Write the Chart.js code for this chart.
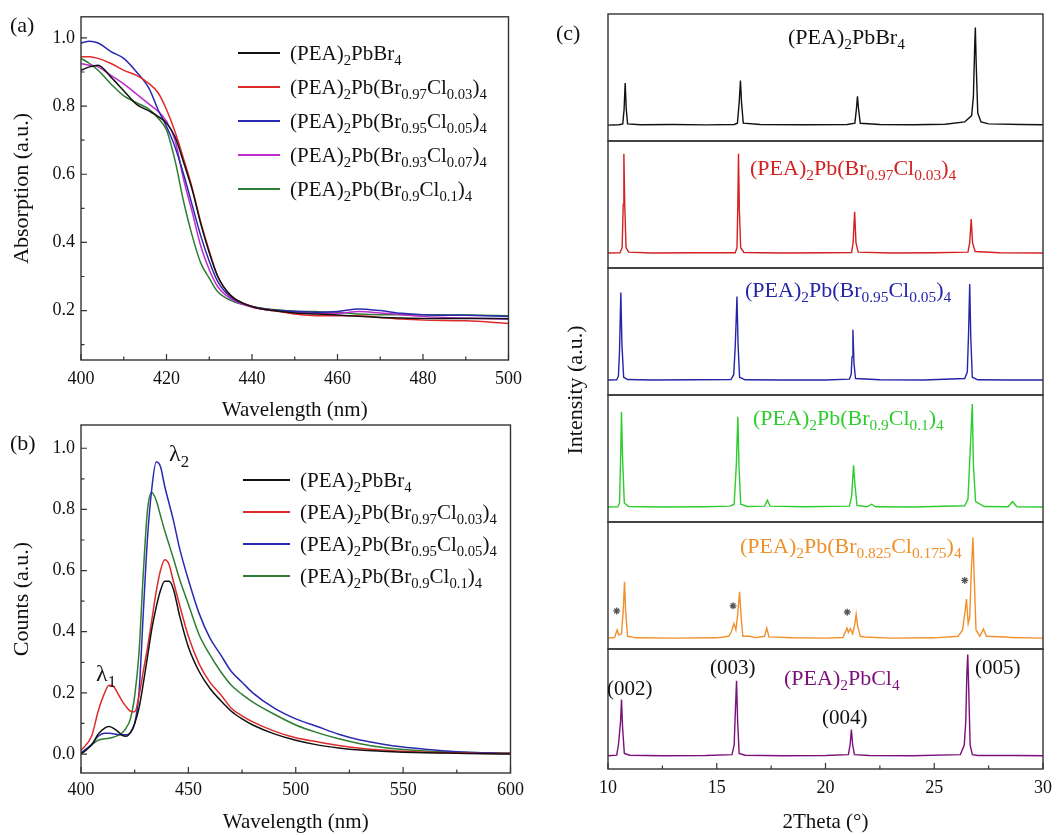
<!DOCTYPE html>
<html>
<head>
<meta charset="utf-8">
<script src="https://cdn.jsdelivr.net/npm/chart.js@4.4.0/dist/chart.umd.min.js"></script>
<style>
    body { margin: 0; background: #fff; font-family: 'Liberation Serif', 'Times New Roman', serif; color: #111; }
    #page { position: relative; width: 1060px; height: 835px; overflow: hidden; }
    canvas { position: absolute; }
    .lbl { position: absolute; white-space: nowrap; transform: translateY(-50%); line-height: 1; }
    sub { font-size: 70%; vertical-align: -0.35em; line-height: 0; }
    .leg { position: absolute; font-size: 21px; }
    .leg .row { display: flex; align-items: center; white-space: nowrap; }
    .leg .sw { display: inline-block; height: 0; border-top: 2px solid; margin-right: 10px; }
</style>
</head>
<body>
<div id="page">
    <canvas id="chartA" width="530" height="427" style="left:0;top:0"></canvas>
    <canvas id="chartB" width="530" height="435" style="left:0;top:400px"></canvas>
    <canvas id="chartC" width="520" height="835" style="left:540px;top:0"></canvas>

    <div class="lbl" style="left:10px;top:25px;font-size:22px">(a)</div>
    <div class="lbl" style="left:10px;top:443px;font-size:22px">(b)</div>
    <div class="lbl" style="left:556px;top:33px;font-size:22px">(c)</div>
    <div class="leg" id="legA" style="left:238px;top:36px"></div>
    <div class="leg" id="legB" style="left:243px;top:464px"></div>
    <div class="lbl" style="left:96px;top:673px;font-size:24px">&lambda;<sub>1</sub></div>
    <div class="lbl" style="left:169px;top:453px;font-size:24px">&lambda;<sub>2</sub></div>

    <div class="lbl" style="left:575px;top:390px;font-size:22px;transform:translate(-50%,-50%) rotate(-90deg)">Intensity (a.u.)</div>
    <div class="lbl" style="left:788px;top:37px;font-size:22px;color:#111">(PEA)<sub>2</sub>PbBr<sub>4</sub></div>
    <div class="lbl" style="left:750px;top:168px;font-size:22px;color:#d42020">(PEA)<sub>2</sub>Pb(Br<sub>0.97</sub>Cl<sub>0.03</sub>)<sub>4</sub></div>
    <div class="lbl" style="left:745px;top:290px;font-size:22px;color:#2525a8">(PEA)<sub>2</sub>Pb(Br<sub>0.95</sub>Cl<sub>0.05</sub>)<sub>4</sub></div>
    <div class="lbl" style="left:753px;top:418px;font-size:22px;color:#2ecc2e">(PEA)<sub>2</sub>Pb(Br<sub>0.9</sub>Cl<sub>0.1</sub>)<sub>4</sub></div>
    <div class="lbl" style="left:740px;top:546px;font-size:22px;color:#f0902a">(PEA)<sub>2</sub>Pb(Br<sub>0.825</sub>Cl<sub>0.175</sub>)<sub>4</sub></div>
    <div class="lbl" style="left:784px;top:678px;font-size:22px;color:#7b0f7b">(PEA)<sub>2</sub>PbCl<sub>4</sub></div>
    <div class="lbl" style="left:607px;top:688px;font-size:21px">(002)</div>
    <div class="lbl" style="left:710px;top:667px;font-size:21px">(003)</div>
    <div class="lbl" style="left:822px;top:717px;font-size:21px">(004)</div>
    <div class="lbl" style="left:975px;top:667px;font-size:21px">(005)</div>
</div>
<script>
// (a) absorption
const absX = [400, 402, 404, 407, 410, 413, 416, 418, 420, 422, 424, 426, 428, 430, 432, 435, 440, 445, 450, 455, 460, 465, 470, 475, 480, 490, 500];
const absBr = [0.905, 0.915, 0.92, 0.885, 0.845, 0.805, 0.785, 0.77, 0.75, 0.71, 0.635, 0.555, 0.455, 0.37, 0.30, 0.245, 0.212, 0.2, 0.193, 0.19, 0.187, 0.183, 0.18, 0.178, 0.177, 0.177, 0.176];
const absCl003 = [0.945, 0.945, 0.94, 0.925, 0.905, 0.89, 0.865, 0.84, 0.79, 0.725, 0.645, 0.56, 0.46, 0.375, 0.30, 0.245, 0.212, 0.2, 0.19, 0.185, 0.185, 0.185, 0.18, 0.175, 0.172, 0.17, 0.162];
const absCl005 = [0.985, 0.99, 0.985, 0.96, 0.94, 0.90, 0.85, 0.79, 0.74, 0.68, 0.60, 0.51, 0.42, 0.345, 0.285, 0.24, 0.212, 0.202, 0.198, 0.195, 0.197, 0.205, 0.2, 0.192, 0.188, 0.186, 0.183];
const absCl007 = [0.925, 0.92, 0.915, 0.89, 0.865, 0.835, 0.805, 0.785, 0.755, 0.70, 0.585, 0.49, 0.39, 0.32, 0.27, 0.235, 0.21, 0.2, 0.195, 0.192, 0.192, 0.197, 0.193, 0.188, 0.183, 0.178, 0.175];
const absCl01 = [0.94, 0.925, 0.905, 0.865, 0.83, 0.81, 0.79, 0.765, 0.73, 0.64, 0.52, 0.42, 0.34, 0.295, 0.255, 0.23, 0.212, 0.203, 0.198, 0.197, 0.195, 0.19, 0.188, 0.188, 0.188, 0.187, 0.185];
const absYTicks = [0.2, 0.4, 0.6, 0.8, 1.0];

// (b) photoluminescence
const plX = [400, 405, 408, 411, 413, 415, 417, 419, 421, 423, 425, 427, 429, 431, 433, 435, 437, 439, 441, 443, 446, 450, 455, 460, 465, 470, 475, 480, 490, 500, 510, 520, 530, 540, 550, 560, 570, 580, 590, 600];
const plBr = [0.0, 0.03, 0.065, 0.085, 0.09, 0.085, 0.075, 0.062, 0.058, 0.07, 0.1, 0.15, 0.23, 0.32, 0.41, 0.48, 0.535, 0.565, 0.565, 0.54, 0.45, 0.35, 0.27, 0.215, 0.175, 0.14, 0.115, 0.095, 0.066, 0.045, 0.03, 0.02, 0.013, 0.009, 0.006, 0.004, 0.003, 0.002, 0.001, 0.0];
const plCl003 = [0.012, 0.06, 0.14, 0.2, 0.225, 0.222, 0.2, 0.175, 0.155, 0.14, 0.138, 0.19, 0.27, 0.35, 0.44, 0.53, 0.6, 0.635, 0.62, 0.565, 0.485, 0.385, 0.295, 0.235, 0.195, 0.15, 0.125, 0.105, 0.075, 0.053, 0.04, 0.028, 0.019, 0.013, 0.009, 0.006, 0.004, 0.003, 0.002, 0.002];
const plCl005 = [0.003, 0.032, 0.058, 0.068, 0.068, 0.066, 0.064, 0.063, 0.063, 0.07, 0.1, 0.2, 0.46, 0.71, 0.87, 0.955, 0.94, 0.875, 0.82, 0.765, 0.67, 0.57, 0.46, 0.38, 0.325, 0.27, 0.235, 0.2, 0.15, 0.115, 0.09, 0.065, 0.046, 0.033, 0.023, 0.016, 0.01, 0.006, 0.004, 0.002];
const plCl01 = [0.003, 0.03, 0.045, 0.05, 0.052, 0.055, 0.06, 0.068, 0.085, 0.115, 0.19, 0.33, 0.59, 0.8, 0.855, 0.83, 0.78, 0.73, 0.685, 0.64, 0.57, 0.49, 0.39, 0.325, 0.27, 0.225, 0.195, 0.17, 0.13, 0.095, 0.07, 0.05, 0.034, 0.022, 0.015, 0.01, 0.007, 0.005, 0.004, 0.003];
const plYTicks = [0.0, 0.2, 0.4, 0.6, 0.8, 1.0];

// (c) XRD, [2theta, normalised intensity within each panel]
const xrdBr = [[10, 0.125], [10.5, 0.128], [10.68, 0.135], [10.74, 0.25], [10.79, 0.457], [10.84, 0.25], [10.9, 0.135], [11.5, 0.128], [13, 0.13], [14.5, 0.127], [15.8, 0.13], [15.95, 0.14], [16.03, 0.3], [16.09, 0.477], [16.14, 0.3], [16.22, 0.14], [17, 0.13], [19, 0.128], [21, 0.13], [21.35, 0.14], [21.42, 0.25], [21.47, 0.351], [21.52, 0.25], [21.6, 0.14], [22.5, 0.13], [24, 0.128], [25.5, 0.132], [26.4, 0.15], [26.72, 0.2], [26.8, 0.35], [26.86, 0.75], [26.89, 0.894], [26.93, 0.6], [27.0, 0.22], [27.15, 0.15], [27.5, 0.135], [29, 0.13], [30, 0.128]];
const xrdCl003 = [[10, 0.118], [10.55, 0.12], [10.65, 0.16], [10.7, 0.5], [10.73, 0.9], [10.77, 0.5], [10.83, 0.16], [10.95, 0.125], [12, 0.118], [14, 0.12], [15.85, 0.12], [15.93, 0.16], [15.97, 0.5], [16.0, 0.9], [16.04, 0.45], [16.1, 0.16], [16.25, 0.122], [18, 0.118], [20, 0.12], [21.2, 0.122], [21.27, 0.2], [21.34, 0.443], [21.4, 0.2], [21.5, 0.125], [23, 0.118], [25, 0.12], [26.55, 0.125], [26.63, 0.2], [26.7, 0.386], [26.76, 0.2], [26.88, 0.13], [28, 0.12], [30, 0.118]];
const xrdCl005 = [[10, 0.118], [10.4, 0.12], [10.48, 0.15], [10.53, 0.35], [10.59, 0.807], [10.64, 0.4], [10.72, 0.14], [10.9, 0.122], [12, 0.118], [14, 0.12], [15.65, 0.122], [15.78, 0.16], [15.85, 0.38], [15.93, 0.776], [15.98, 0.4], [16.05, 0.14], [16.3, 0.12], [18, 0.118], [20, 0.118], [21.1, 0.125], [21.18, 0.16], [21.22, 0.3], [21.26, 0.513], [21.31, 0.25], [21.38, 0.13], [22.5, 0.12], [24.5, 0.118], [26.4, 0.13], [26.52, 0.18], [26.58, 0.5], [26.63, 0.874], [26.68, 0.45], [26.75, 0.14], [27, 0.12], [28.5, 0.118], [30, 0.118]];
const xrdCl01 = [[10, 0.118], [10.45, 0.12], [10.53, 0.15], [10.58, 0.5], [10.62, 0.868], [10.67, 0.5], [10.75, 0.15], [10.95, 0.122], [12.5, 0.118], [14.5, 0.12], [15.6, 0.125], [15.8, 0.14], [15.9, 0.45], [15.97, 0.829], [16.02, 0.45], [16.1, 0.14], [16.4, 0.122], [17.2, 0.125], [17.33, 0.171], [17.45, 0.125], [19, 0.12], [21.1, 0.125], [21.2, 0.2], [21.29, 0.447], [21.35, 0.3], [21.45, 0.13], [21.9, 0.12], [22.12, 0.14], [22.3, 0.12], [24, 0.118], [26.4, 0.128], [26.55, 0.18], [26.65, 0.55], [26.75, 0.929], [26.8, 0.45], [26.9, 0.16], [27.1, 0.14], [27.3, 0.122], [28.4, 0.12], [28.6, 0.16], [28.8, 0.12], [30, 0.118]];
const xrdCl0175 = [[10, 0.086], [10.3, 0.09], [10.42, 0.15], [10.5, 0.11], [10.62, 0.12], [10.7, 0.3], [10.76, 0.53], [10.81, 0.3], [10.9, 0.1], [11.3, 0.088], [13, 0.086], [15, 0.088], [15.55, 0.1], [15.68, 0.14], [15.79, 0.2], [15.88, 0.15], [15.95, 0.25], [16.05, 0.45], [16.12, 0.25], [16.2, 0.1], [16.5, 0.1], [16.8, 0.09], [17.2, 0.1], [17.3, 0.165], [17.4, 0.095], [18.5, 0.088], [20, 0.086], [20.8, 0.09], [20.99, 0.165], [21.05, 0.13], [21.14, 0.16], [21.25, 0.12], [21.35, 0.2], [21.41, 0.274], [21.48, 0.18], [21.6, 0.1], [21.8, 0.095], [23, 0.086], [25, 0.088], [26.1, 0.1], [26.3, 0.15], [26.42, 0.3], [26.48, 0.394], [26.56, 0.2], [26.63, 0.25], [26.7, 0.6], [26.78, 0.878], [26.84, 0.55], [26.92, 0.15], [27.1, 0.1], [27.26, 0.157], [27.4, 0.1], [28.3, 0.095], [28.5, 0.09], [30, 0.086]];
const xrdCl4 = [[10, 0.111], [10.4, 0.115], [10.48, 0.2], [10.52, 0.28], [10.58, 0.4], [10.62, 0.578], [10.67, 0.35], [10.75, 0.13], [11, 0.115], [12.5, 0.111], [14.5, 0.113], [15.7, 0.12], [15.8, 0.2], [15.86, 0.5], [15.91, 0.736], [15.96, 0.4], [16.03, 0.13], [16.3, 0.115], [18, 0.111], [20, 0.113], [21.05, 0.12], [21.13, 0.2], [21.19, 0.328], [21.25, 0.2], [21.33, 0.12], [22, 0.113], [24, 0.111], [26.2, 0.12], [26.38, 0.2], [26.45, 0.4], [26.5, 0.8], [26.54, 0.953], [26.58, 0.7], [26.65, 0.2], [26.75, 0.12], [27, 0.113], [28.8, 0.113], [30, 0.111]];
const impurityStars = [[10.4, 0.30], [15.75, 0.34], [21.0, 0.29], [26.4, 0.54]];

const absNames = ['(PEA)<sub>2</sub>PbBr<sub>4</sub>', '(PEA)<sub>2</sub>Pb(Br<sub>0.97</sub>Cl<sub>0.03</sub>)<sub>4</sub>', '(PEA)<sub>2</sub>Pb(Br<sub>0.95</sub>Cl<sub>0.05</sub>)<sub>4</sub>', '(PEA)<sub>2</sub>Pb(Br<sub>0.93</sub>Cl<sub>0.07</sub>)<sub>4</sub>', '(PEA)<sub>2</sub>Pb(Br<sub>0.9</sub>Cl<sub>0.1</sub>)<sub>4</sub>'];
const plNames = ['(PEA)<sub>2</sub>PbBr<sub>4</sub>', '(PEA)<sub>2</sub>Pb(Br<sub>0.97</sub>Cl<sub>0.03</sub>)<sub>4</sub>', '(PEA)<sub>2</sub>Pb(Br<sub>0.95</sub>Cl<sub>0.05</sub>)<sub>4</sub>', '(PEA)<sub>2</sub>Pb(Br<sub>0.9</sub>Cl<sub>0.1</sub>)<sub>4</sub>'];

const absColors = ['#111111', '#e02b2b', '#2a2ab0', '#c02cd0', '#2e7d32'];
const plColors = ['#111111', '#e02b2b', '#2a2ab0', '#2e7d32'];
const xrdColors = ['#111111', '#d42020', '#2525a8', '#2ecc2e', '#f0902a', '#7b0f7b'];

const SERIF = "'Liberation Serif', 'Times New Roman', serif";
const font = size => ({ family: SERIF, size: size });
const strip = s => s.replace(/<[^>]+>/g, '');
const pts = (xs, ys) => xs.map((x, i) => ({ x: x, y: ys[i] }));

// frame box + inward ticks like Origin
const frameTicks = {
    id: 'frameTicks',
    afterDatasetsDraw(chart, args, opts) {
        const ctx = chart.ctx, a = chart.chartArea, scales = chart.scales;
        const marks = s => {
            const major = s.ticks.map(t => t.value);
            const step = major[1] - major[0];
            const minor = [];
            for (let m = major[0] - step / 2; m <= s.max + 1e-9; m += step) {
                if (m >= s.min - 1e-9) minor.push(m);
            }
            return { major, minor };
        };
        ctx.save();
        ctx.strokeStyle = '#333';
        ctx.lineWidth = 1.4;
        Object.values(scales).filter(s => s.axis === 'y').forEach(s => {
            ctx.strokeRect(a.left, s.top, a.right - a.left, s.bottom - s.top);
        });
        ctx.lineWidth = 1.2;
        ctx.beginPath();
        const x = scales.x, mx = marks(x);
        mx.major.forEach(v => { const p = x.getPixelForValue(v); ctx.moveTo(p, a.bottom); ctx.lineTo(p, a.bottom - 6); });
        mx.minor.forEach(v => { const p = x.getPixelForValue(v); ctx.moveTo(p, a.bottom); ctx.lineTo(p, a.bottom - 3.5); });
        if (opts.yTicks) {
            const y = scales.y, my = marks(y);
            my.major.forEach(v => { const p = y.getPixelForValue(v); ctx.moveTo(a.left, p); ctx.lineTo(a.left + 6, p); });
            my.minor.forEach(v => { const p = y.getPixelForValue(v); ctx.moveTo(a.left, p); ctx.lineTo(a.left + 3.5, p); });
        }
        ctx.stroke();
        ctx.restore();
    }
};
Chart.register(frameTicks);

function spectrumChart(id, xs, ys, colors, names, xOpt, yOpt, padTop, xTitle, yTitle) {
    return new Chart(document.getElementById(id), {
        type: 'line',
        data: {
            datasets: ys.map((y, i) => ({
                label: strip(names[i]),
                data: pts(xs, y),
                borderColor: colors[i],
                borderWidth: 1.5,
                pointRadius: 0,
                cubicInterpolationMode: 'monotone'
            }))
        },
        options: {
            responsive: false,
            animation: false,
            layout: { padding: { left: 0, top: padTop, right: 19, bottom: 0 } },
            plugins: { legend: { display: false }, tooltip: { enabled: false }, frameTicks: { yTicks: true } },
            scales: {
                x: {
                    type: 'linear', min: xOpt.min, max: xOpt.max,
                    grid: { display: false, drawTicks: false }, border: { display: false },
                    ticks: { stepSize: xOpt.step, padding: xOpt.pad, font: font(18), color: '#111' },
                    title: { display: true, text: xTitle, font: font(21), color: '#111', padding: { top: 4, bottom: xOpt.titleBottom } },
                    afterFit: s => { s.height = xOpt.height; }
                },
                y: {
                    type: 'linear', min: yOpt.min, max: yOpt.max,
                    grid: { display: false, drawTicks: false }, border: { display: false },
                    afterBuildTicks: s => { s.ticks = yOpt.ticks.map(v => ({ value: v })); },
                    ticks: { padding: 6, font: font(18), color: '#111', callback: v => Number(v).toFixed(1) },
                    title: { display: true, text: yTitle, font: font(22), color: '#111', padding: { top: 9, bottom: 0 } },
                    afterFit: s => { s.width = 81; }
                }
            }
        }
    });
}

spectrumChart('chartA', absX, [absBr, absCl003, absCl005, absCl007, absCl01], absColors, absNames,
    { min: 400, max: 500, step: 20, pad: 8, height: 67, titleBottom: 4 },
    { min: 0.055, max: 1.062, ticks: absYTicks }, 14, 'Wavelength (nm)', 'Absorption (a.u.)');

spectrumChart('chartB', plX, [plBr, plCl003, plCl005, plCl01], plColors, plNames,
    { min: 400, max: 600, step: 50, pad: 6, height: 62, titleBottom: 0 },
    { min: -0.062, max: 1.076, ticks: plYTicks }, 25, 'Wavelength (nm)', 'Counts (a.u.)');

// (c) six stacked panels sharing the 2theta axis (stack is filled bottom-up)
const xrdSets = [xrdBr, xrdCl003, xrdCl005, xrdCl01, xrdCl0175, xrdCl4];
const xrdScales = {
    x: {
        type: 'linear', min: 10, max: 30,
        grid: { display: false, drawTicks: false }, border: { display: false },
        ticks: { stepSize: 5, padding: 8, font: font(18), color: '#111' },
        title: { display: true, text: '2Theta (\u00B0)', font: font(21), color: '#111', padding: { top: 4, bottom: 0 } },
        afterFit: s => { s.height = 66; }
    }
};
for (let i = xrdSets.length - 1; i >= 0; i--) {
    xrdScales['y' + i] = {
        type: 'linear', min: 0, max: 1, position: 'left', stack: 'xrd', stackWeight: i === 5 ? 120 : 127,
        grid: { display: false, drawTicks: false }, border: { display: false },
        ticks: { display: false },
        afterFit: s => { s.width = 68; }
    };
}
const xrdDatasets = xrdSets.map((d, i) => ({
    data: d,
    yAxisID: 'y' + i,
    borderColor: xrdColors[i],
    borderWidth: 1.4,
    pointRadius: 0,
    tension: 0
}));
xrdDatasets.push({
    data: impurityStars,
    yAxisID: 'y4',
    showLine: false,
    pointStyle: 'star',
    pointRadius: 3.5,
    borderColor: '#555',
    borderWidth: 1.3
});

new Chart(document.getElementById('chartC'), {
    type: 'line',
    data: { datasets: xrdDatasets },
    options: {
        responsive: false,
        animation: false,
        layout: { padding: { left: 0, top: 14, right: 11, bottom: 0 } },
        plugins: { legend: { display: false }, tooltip: { enabled: false } },
        scales: xrdScales
    }
});

// legends with subscripts
function buildLegend(id, names, colors, rowH, swW) {
    const box = document.getElementById(id);
    names.forEach((n, i) => {
        const row = document.createElement('div');
        row.className = 'row';
        row.style.height = rowH + 'px';
        row.innerHTML = '<span class="sw" style="width:' + swW + 'px;border-color:' + colors[i] + '"></span><span>' + n + '</span>';
        box.appendChild(row);
    });
}
buildLegend('legA', absNames, absColors, 34, 42);
buildLegend('legB', plNames, plColors, 32, 47);
</script>
</body>
</html>
